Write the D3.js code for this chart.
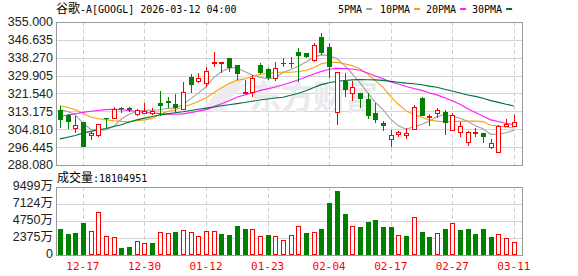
<!DOCTYPE html>
<html lang="zh">
<head>
    <meta charset="UTF-8">
    <title>谷歌-A[GOOGL] 日K</title>
    <script src="https://d3js.org/d3.v7.min.js"></script>
    <style>
        body { margin: 0; background: #fff; }
        .axis-text { font-family: "Liberation Sans", Arial, "Noto Sans CJK SC", sans-serif; font-size: 12.5px; fill: #222; }
        .mono { font-family: "DejaVu Sans Mono", "Liberation Mono", monospace; font-size: 10px; }
        .cjk { font-family: "Noto Sans CJK SC", sans-serif; font-size: 12px; }
    </style>
</head>
<body>
<div id="chart"></div>
<script>
// trading days shown (60 bars)
const dates = ["12-12","12-15","12-16","12-17","12-18","12-19","12-22","12-23","12-24","12-26",
    "12-29","12-30","12-31","01-02","01-05","01-06","01-07","01-08","01-09","01-12",
    "01-13","01-14","01-15","01-16","01-20","01-21","01-22","01-23","01-26","01-27",
    "01-28","01-29","01-30","02-02","02-03","02-04","02-05","02-06","02-09","02-10",
    "02-11","02-12","02-13","02-17","02-18","02-19","02-20","02-23","02-24","02-25",
    "02-26","02-27","03-02","03-03","03-04","03-05","03-06","03-09","03-10","03-11"];
const xTicks = ["12-17","12-30","01-12","01-23","02-04","02-17","02-27","03-11"];

const open = [313.9,311.6,305.2,308.3,302.0,301.9,310.0,310.0,314.8,314.8,
    311.9,312.3,312.3,317.0,318.1,316.7,314.2,329.2,327.4,326.3,
    335.7,335.7,338.0,334.9,321.7,322.0,334.9,332.9,328.7,335.7,
    336.0,340.8,340.5,337.2,348.1,343.5,313.0,327.4,321.7,321.7,
    319.0,312.6,307.7,300.2,302.5,302.1,304.9,319.3,310.5,312.3,
    312.8,304.5,303.5,298.8,302.8,303.0,296.5,294.4,306.4,306.7];
const high = [315.7,311.9,310.8,308.3,304.1,307.2,310.0,315.1,315.1,315.1,
    314.2,317.0,314.7,322.9,319.8,321.4,326.7,330.7,331.0,334.1,
    341.0,336.3,338.0,334.9,327.9,330.2,335.7,333.7,336.3,338.0,
    338.5,342.7,340.5,345.0,349.7,345.0,331.8,331.0,327.4,321.7,
    321.7,317.0,308.7,304.5,304.1,305.3,316.2,320.1,312.0,314.7,
    313.6,312.3,308.0,304.1,305.3,303.0,300.3,306.9,309.5,311.6];
const low = [305.3,305.0,303.0,296.4,299.6,301.1,305.6,309.7,312.6,313.1,
    310.8,311.9,311.5,310.8,314.7,312.3,314.2,322.0,326.3,324.8,
    334.1,331.0,331.8,327.9,321.4,319.8,330.5,327.9,327.6,334.1,
    333.4,327.1,338.3,336.5,339.4,328.7,306.9,320.1,317.8,314.7,
    309.5,307.7,303.8,296.3,301.4,300.2,304.5,310.8,306.4,310.0,
    302.2,304.2,301.4,296.8,301.1,298.3,295.5,294.1,305.8,306.1];
const close = [309.2,308.4,306.7,296.8,303.0,307.2,309.5,314.2,314.2,313.9,
    313.6,313.3,313.3,315.4,317.0,314.7,322.3,325.6,328.7,332.1,
    336.3,336.3,333.4,330.5,322.3,328.7,331.3,328.7,333.3,335.1,
    335.7,338.8,338.8,344.3,340.4,334.1,331.5,323.2,324.5,319.0,
    311.1,309.2,306.1,302.2,303.5,303.0,315.1,311.1,310.8,313.6,
    307.7,311.6,306.1,303.5,303.3,301.0,298.3,306.4,307.2,308.4];

// volume in 万 shares, colour (1 = red, -1 = green)
const volume = [3616,2921,3060,4451,3292,6073,2596,2457,927,1066,
    1901,1623,1669,3152,3013,3152,3431,3152,2596,3292,
    3292,2921,2782,4033,3616,3570,2596,2782,2596,2086,
    2735,3987,3060,3152,3616,7232,8901,5702,3987,3894,
    4590,4868,3894,3894,2735,2643,5378,3199,2503,3013,
    3616,4404,3477,3616,2921,3616,2503,2874,2318,1810.4951];
const volDir = [-1,-1,-1,-1,1,1,1,1,-1,-1,
    1,1,-1,1,1,-1,1,1,1,1,
    1,-1,-1,-1,-1,1,1,-1,1,1,
    1,1,-1,1,-1,-1,-1,-1,1,-1,
    -1,-1,-1,-1,1,-1,1,-1,-1,1,
    -1,1,-1,-1,-1,-1,-1,1,1,1];

const ma5 = [313.9,313.1,311.6,307.7,304.8,304.4,304.6,306.1,309.6,311.8,
    313.1,313.8,313.7,313.9,314.5,314.7,316.5,319.0,321.7,324.7,
    329.0,331.8,333.4,333.7,331.8,330.2,329.2,328.3,328.9,331.4,
    332.8,334.3,336.3,338.5,339.6,339.3,337.8,334.7,330.7,326.5,
    321.9,317.4,314.0,309.5,306.4,304.8,306.0,307.0,308.7,310.7,
    311.7,311.0,310.0,308.5,306.4,305.1,302.4,302.5,303.2,304.3];
const ma10 = [315.8,315.1,313.9,312.3,310.5,309.7,309.3,308.8,308.5,308.3,
    308.8,309.2,309.9,311.8,313.2,313.9,315.2,316.4,317.8,319.6,
    321.9,324.2,326.2,327.7,328.3,329.6,330.5,330.9,331.3,331.6,
    331.5,331.8,332.3,333.7,335.5,336.1,336.1,335.5,334.6,333.1,
    330.6,327.6,324.4,320.1,316.5,313.4,311.7,310.5,309.1,308.6,
    308.3,308.5,308.5,308.6,308.6,308.4,306.7,306.3,305.9,305.4];
const ma20 = [310.8,311.5,312.1,312.7,313.2,313.6,314.0,314.2,314.0,313.6,
    313.1,312.7,312.4,312.1,311.9,311.8,312.0,312.6,313.3,314.0,
    315.4,316.7,318.1,319.8,320.8,321.8,322.9,323.7,324.6,325.6,
    326.7,328.0,329.3,330.7,331.9,332.9,333.3,333.2,333.0,332.4,
    331.1,329.7,328.4,326.9,326.0,324.8,323.9,323.0,321.9,320.9,
    319.5,318.1,316.5,314.4,312.6,310.9,309.2,308.4,307.5,307.0];
const ma30 = [300.3,301.1,301.9,303.0,303.8,304.5,305.2,306.1,306.9,308.2,
    309.2,310.0,310.8,311.5,312.0,312.5,313.0,313.6,314.2,314.7,
    315.2,315.8,316.3,316.8,317.3,317.9,318.5,319.0,319.4,319.8,
    320.7,321.7,322.8,324.4,325.7,326.6,327.3,327.6,327.9,328.1,
    328.0,327.9,327.7,327.2,326.8,326.4,326.1,325.6,325.0,324.5,
    323.5,322.7,321.8,320.8,320.2,319.3,318.2,317.4,316.5,315.7];

const priceTicks = [288.080,296.445,304.810,313.175,321.540,329.905,338.270,346.635,355.000];
const volTicks = [0,2374.75,4749.5,7124.25,9499];
const volTickLabels = ["0","2375万","4750万","7124万","9499万"];

const maSeries = [
    {name: "5PMA", values: ma5, color: "#a0a0a0"},
    {name: "10PMA", values: ma10, color: "#f5a300"},
    {name: "20PMA", values: ma20, color: "#ff1aff"},
    {name: "30PMA", values: ma30, color: "#006f3c"}
];

const RED = "#ff0000", GREEN = "#008000";
const W = 578, H = 276;
const left = 56, right = 522;
const price = {top: 22, bottom: 165};
const vol = {top: 187, bottom: 255};

const svg = d3.select("#chart").append("svg")
    .attr("width", W).attr("height", H)
    .style("display", "block");

const x = d3.scaleBand()
    .domain(dates)
    .range([left, left + dates.length * 7.695])
    .padding(0);
const cx = d => x(d) + x.bandwidth() / 2;

const y = d3.scaleLinear().domain([288.08, 355]).range([price.bottom, price.top]);
const yv = d3.scaleLinear().domain([0, 9499]).range([vol.bottom, vol.top]);

// grids
function panelGrid(top, bottom, ticks, scale) {
    const g = svg.append("g").attr("shape-rendering", "crispEdges");
    g.selectAll(".h").data(ticks).join("line")
        .attr("x1", left).attr("x2", right)
        .attr("y1", d => Math.round(scale(d)) + 0.5)
        .attr("y2", d => Math.round(scale(d)) + 0.5)
        .attr("stroke", "#d4d4d4");
    g.selectAll(".v").data(xTicks).join("line")
        .attr("x1", d => Math.round(cx(d)) + 0.5)
        .attr("x2", d => Math.round(cx(d)) + 0.5)
        .attr("y1", top).attr("y2", bottom)
        .attr("stroke", "#cfcfcf")
        .attr("stroke-dasharray", "4,3");
}
panelGrid(price.top, price.bottom, priceTicks, y);
panelGrid(vol.top, vol.bottom, volTicks, yv);

// watermark
svg.append("path")
    .attr("d", "M204,110 C214,92 232,78 252,74 C238,84 226,98 222,112 Z M214,112 C222,96 236,86 250,82")
    .attr("fill", "#ececf0").attr("stroke", "#ececf0");
svg.append("text")
    .attr("x", 249).attr("y", 109)
    .attr("font-family", "Noto Sans CJK SC, sans-serif")
    .attr("font-size", 33).attr("font-weight", "bold")
    .attr("fill", "#e9e9ee")
    .attr("letter-spacing", -1)
    .text("东方财富");

// moving averages
const line = d3.line().x((d, i) => cx(dates[i])).y(d => y(d));
svg.selectAll(".ma").data(maSeries).join("path")
    .attr("d", d => line(d.values))
    .attr("fill", "none")
    .attr("stroke", d => d.color)
    .attr("stroke-width", 1.1);

// candles
const candles = dates.map((d, i) => ({date: d, o: open[i], h: high[i], l: low[i], c: close[i]}));
const cg = svg.append("g").attr("shape-rendering", "crispEdges");
const cGroup = cg.selectAll("g").data(candles).join("g");
cGroup.append("line")
    .attr("x1", d => Math.round(cx(d.date)) + 0.5)
    .attr("x2", d => Math.round(cx(d.date)) + 0.5)
    .attr("y1", d => y(d.h)).attr("y2", d => y(d.l))
    .attr("stroke", d => d.c >= d.o ? RED : GREEN);
cGroup.append("rect")
    .attr("x", d => Math.round(cx(d.date)) - 2 + (d.c >= d.o ? 0.5 : 0))
    .attr("width", d => d.c >= d.o ? 4 : 5)
    .attr("y", d => Math.round(y(Math.max(d.o, d.c))) + (d.c >= d.o ? 0.5 : 0))
    .attr("height", d => Math.max(1, Math.round(Math.abs(y(d.o) - y(d.c)))))
    .attr("fill", d => d.c >= d.o ? "#fff" : GREEN)
    .attr("stroke", d => d.c >= d.o ? RED : "none");

// volume bars
const vg = svg.append("g").attr("shape-rendering", "crispEdges");
vg.selectAll("rect").data(volume).join("rect")
    .attr("x", (d, i) => Math.round(cx(dates[i])) - 2 + (volDir[i] > 0 ? 0.5 : 0))
    .attr("width", (d, i) => volDir[i] > 0 ? 4 : 5)
    .attr("y", (d, i) => Math.round(yv(d)) + (volDir[i] > 0 ? 0.5 : 0))
    .attr("height", (d, i) => Math.round(vol.bottom - yv(d)) - (volDir[i] > 0 ? 1 : 0))
    .attr("fill", (d, i) => volDir[i] > 0 ? "#fff" : GREEN)
    .attr("stroke", (d, i) => volDir[i] > 0 ? RED : "none");

// panel frames
[price, vol].forEach(p => {
    svg.append("rect")
        .attr("x", left + 0.5).attr("y", p.top + 0.5)
        .attr("width", right - left).attr("height", p.bottom - p.top)
        .attr("fill", "none").attr("stroke", "#9a9a9a")
        .attr("shape-rendering", "crispEdges");
});

// y axis labels
svg.selectAll(".py").data(priceTicks).join("text")
    .attr("class", "axis-text")
    .attr("x", 53).attr("y", d => y(d))
    .attr("dy", "0.35em")
    .attr("text-anchor", "end")
    .text(d => d3.format(".3f")(d));
svg.selectAll(".vy").data(volTicks).join("text")
    .attr("class", "axis-text")
    .attr("x", 53).attr("y", d => yv(d) - 1)
    .attr("dy", "0.35em")
    .attr("text-anchor", "end")
    .text((d, i) => volTickLabels[i]);

// x axis labels
svg.selectAll(".xl").data(xTicks).join("text")
    .attr("class", "mono")
    .attr("x", d => cx(d)).attr("y", 270)
    .attr("text-anchor", "middle")
    .attr("fill", RED)
    .style("font-size", "11px")
    .text(d => d);

// title
const title = svg.append("text").attr("x", 56).attr("y", 13).attr("fill", "#000");
title.append("tspan").attr("class", "cjk").text("谷歌");
title.append("tspan").attr("class", "mono").text("-A[GOOGL] 2026-03-12 04:00");

// volume caption: last bar's volume in shares
const cap = svg.append("text").attr("x", 57).attr("y", 182).attr("fill", "#000");
cap.append("tspan").attr("class", "cjk").text("成交量");
cap.append("tspan").attr("class", "mono").text(":" + Math.round(volume[volume.length - 1] * 10000));

// legend
const legendX = [338, 380, 426, 472];
maSeries.forEach((s, i) => {
    const t = svg.append("text")
        .attr("class", "mono")
        .attr("x", legendX[i]).attr("y", 13)
        .attr("fill", "#000")
        .text(s.name);
    const w = t.node().getComputedTextLength();
    svg.append("line")
        .attr("x1", legendX[i] + w + 4).attr("x2", legendX[i] + w + 10)
        .attr("y1", 9).attr("y2", 9)
        .attr("stroke", s.color).attr("stroke-width", 2);
});
</script>
</body>
</html>
